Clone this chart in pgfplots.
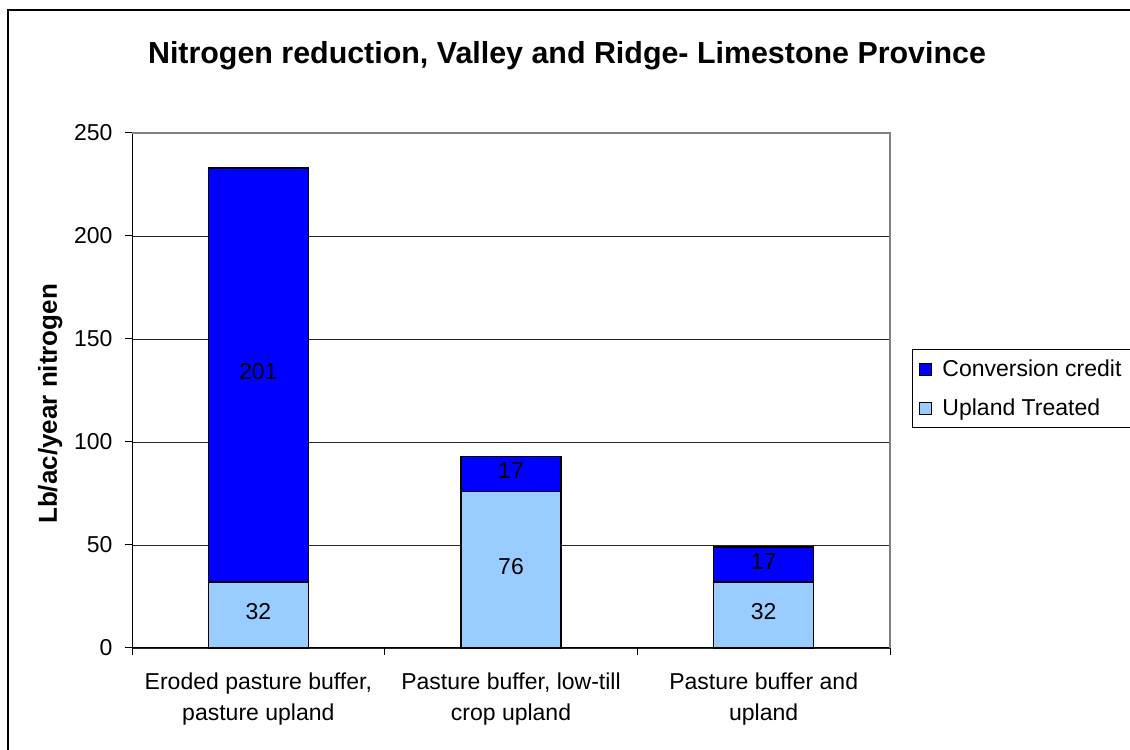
\documentclass[border=0pt]{standalone}
\usepackage{pgfplots}
\pgfplotsset{compat=1.18}
\usepackage{pgfplotstable}
\usepackage{fontspec}
\setmainfont{Liberation Sans}

\definecolor{convblue}{RGB}{0,0,255}
\definecolor{uplandblue}{RGB}{153,204,255}

% segment values per category (categories at 0.5, 1.5, 2.5)
\pgfplotstableread{
x   v
0.5 32
1.5 76
2.5 32
}\upland
\pgfplotstableread{
x   v
0.5 201
1.5 17
2.5 17
}\conversion

\begin{document}
\begin{tikzpicture}[x=1bp,y=1bp]
\useasboundingbox (0,0) rectangle (1130,750);
% outer chart frame (only left and top edges visible)
\draw[line width=2bp] (8,-10) -- (8,740) -- (1140,740);
\node[font=\bfseries\fontsize{30.4bp}{36bp}\selectfont] at (567,694)
  {Nitrogen reduction, Valley and Ridge- Limestone Province};

\begin{axis}[
  at={(132bp,102bp)}, anchor=south west,
  width=758bp, height=515bp, scale only axis,
  clip=false,
  ybar stacked, bar width=100bp,
  xmin=0, xmax=3, ymin=0, ymax=250,
  ytick={0,50,...,250},
  xtick={0.5,1.5,2.5},
  xticklabels={{Eroded pasture buffer,\\pasture upland},
               {Pasture buffer, low-till\\crop upland},
               {Pasture buffer and\\upland}},
  minor xtick={0,1,2,3},
  axis x line*=bottom, axis y line*=left,
  axis line style={black, line width=1bp},
  tick align=outside,
  major tick length=7bp, minor tick length=7bp,
  major x tick style={draw=none},
  minor x tick style={black, line width=1bp},
  ytick style={black, line width=1bp},
  ymajorgrids,
  major grid style={black!85, line width=0.8bp},
  tick label style={font=\fontsize{23bp}{31bp}\selectfont},
  xticklabel style={align=center, yshift=-14bp},
  yticklabel style={xshift=-9bp},
  /pgf/number format/assume math mode=true,
  ylabel={Lb/ac/year nitrogen},
  ylabel style={font=\bfseries\fontsize{26bp}{30bp}\selectfont,
                at={(axis description cs:-0.108,0.474)}, anchor=center},
  legend style={at={(1.029,0.5806)}, anchor=north west, draw=black,
                line width=1bp, font=\fontsize{23bp}{27bp}\selectfont,
                row sep=17bp, column sep=9bp, inner xsep=6bp, inner ysep=8.5bp},
  legend cell align=left,
  reverse legend,
  legend image code/.code={\draw[#1, line width=1bp] (0bp,-6bp) rectangle (12bp,6bp);},
  nodes near coords,
  point meta=explicit,
  every node near coord/.append style={anchor=center, black, yshift=3bp,
      font=\fontsize{23bp}{27bp}\selectfont},
]
\addplot[fill=uplandblue, draw=black, line width=1.5bp] table[x=x, y=v, meta=v] {\upland};
\addplot[fill=convblue, draw=black, line width=1.5bp] table[x=x, y=v, meta=v] {\conversion};
\legend{Upland Treated, Conversion credit\hphantom{MMM}}
\draw[black!50, line width=1.5bp] (rel axis cs:0,1) -- (rel axis cs:1,1) -- (rel axis cs:1,0);
\end{axis}
\end{tikzpicture}
\end{document}
